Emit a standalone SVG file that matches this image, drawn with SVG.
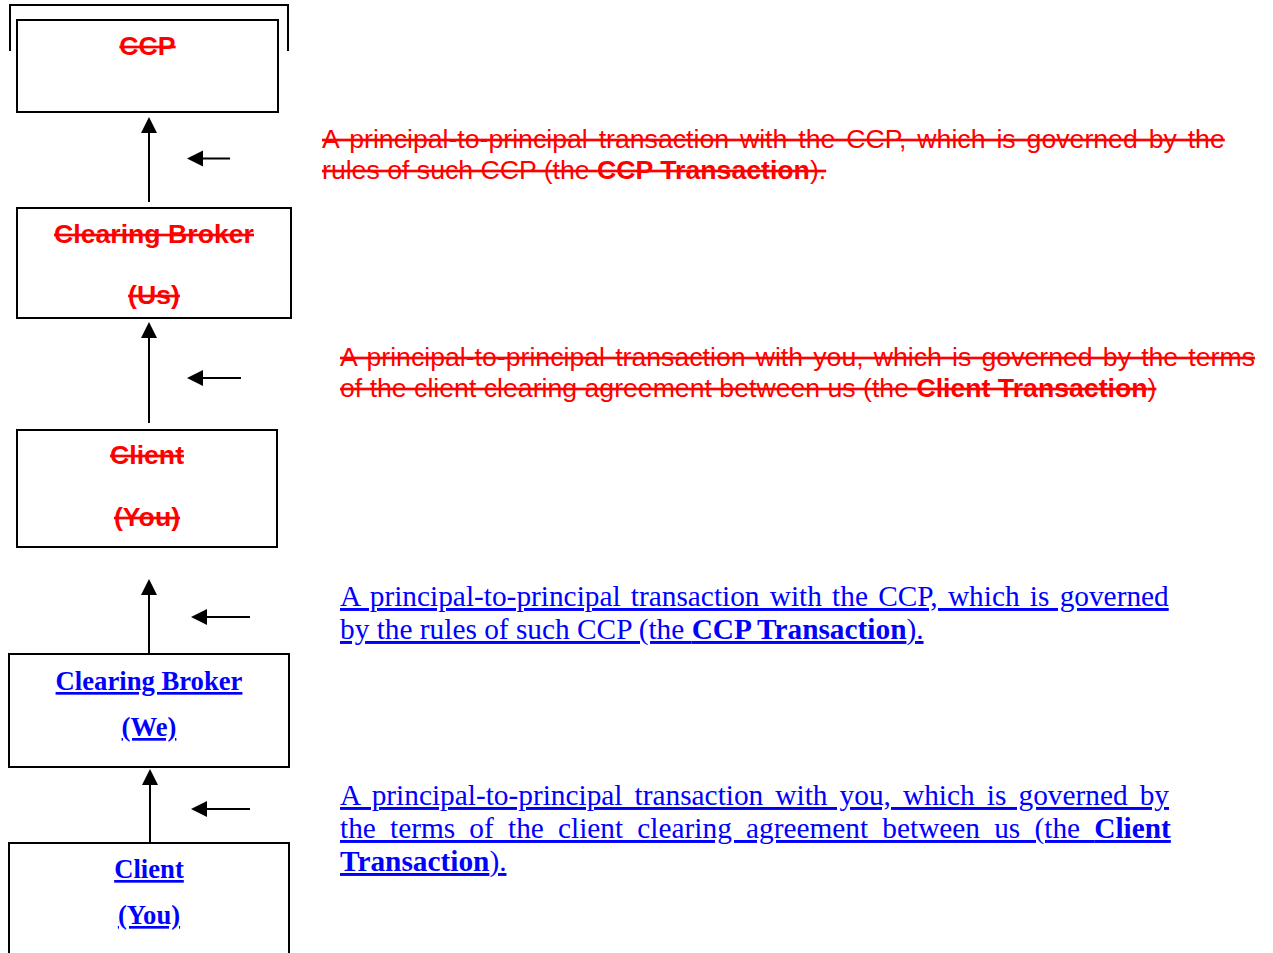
<svg xmlns="http://www.w3.org/2000/svg" width="1273" height="953" viewBox="0 0 1273 953">
<style>
.box{fill:#fff;stroke:#000;stroke-width:2}
.ln{stroke:#000;stroke-width:2;fill:none}
.red{font-family:"Liberation Sans",Arial,sans-serif;font-size:26.67px;fill:#ff0000;text-decoration:line-through}
.redb{font-family:"Liberation Sans",Arial,sans-serif;font-size:26.67px;font-weight:bold;fill:#ff0000;text-decoration:line-through;text-anchor:middle}
.blue{font-family:"Liberation Serif","Times New Roman",serif;font-size:29.33px;fill:#0000ff;text-decoration:underline}
.blueb{font-family:"Liberation Serif","Times New Roman",serif;font-size:26.67px;font-weight:bold;fill:#0000ff;text-decoration:underline;text-anchor:middle}
.b{font-weight:bold}
</style>
<defs>
<marker id="ah" markerUnits="userSpaceOnUse" markerWidth="18" markerHeight="18" refX="0" refY="8" orient="auto">
<path d="M0,0 L16,8 L0,16 Z" fill="#000"/>
</marker>
</defs>
<rect width="1273" height="953" fill="#fff"/>
<g id="bracket"><path class="ln" d="M10,51 V5 H288 V51"/></g>
<g id="node-ccp">
<rect class="box" x="17" y="20" width="261" height="92"/>
<text class="redb" x="147.5" y="55">CCP</text>
</g>
<g id="node-broker-us">
<rect class="box" x="17" y="208" width="274" height="110"/>
<text class="redb" x="154" y="243">Clearing Broker</text>
<text class="redb" x="154" y="304">(Us)</text>
</g>
<g id="node-client-you-old">
<rect class="box" x="17" y="430" width="260" height="117"/>
<text class="redb" x="147" y="464">Client</text>
<text class="redb" x="147" y="526">(You)</text>
</g>
<g id="node-broker-we">
<rect class="box" x="9" y="654" width="280" height="113"/>
<text class="blueb" x="149" y="690">Clearing Broker</text>
<text class="blueb" x="149" y="736">(We)</text>
</g>
<g id="node-client-you">
<path class="box" d="M9,960 V843 H289 V960"/>
<text class="blueb" x="149" y="878">Client</text>
<text class="blueb" x="149" y="924">(You)</text>
</g>
<g id="connectors">
<line class="ln" x1="149" y1="202" x2="149" y2="133" marker-end="url(#ah)"/>
<line class="ln" x1="230" y1="158.5" x2="203" y2="158.5" marker-end="url(#ah)"/>
<line class="ln" x1="149" y1="423" x2="149" y2="338" marker-end="url(#ah)"/>
<line class="ln" x1="241" y1="378" x2="203" y2="378" marker-end="url(#ah)"/>
<line class="ln" x1="149" y1="654" x2="149" y2="595" marker-end="url(#ah)"/>
<line class="ln" x1="250" y1="617" x2="207" y2="617" marker-end="url(#ah)"/>
<line class="ln" x1="150" y1="843" x2="150" y2="785" marker-end="url(#ah)"/>
<line class="ln" x1="250" y1="809" x2="207" y2="809" marker-end="url(#ah)"/>
</g>
<g id="label-ccp-old">
<text class="red" x="322" y="148" word-spacing="3.5">A principal-to-principal transaction with the CCP, which is governed by the</text>
<text class="red" x="322" y="179">rules of such CCP (the <tspan class="b">CCP Transaction</tspan>).</text>
</g>
<g id="label-client-old">
<text class="red" x="340" y="366" word-spacing="2.75">A principal-to-principal transaction with you, which is governed by the terms</text>
<text class="red" x="340" y="397">of the client clearing agreement between us (the <tspan class="b">Client Transaction</tspan>)</text>
</g>
<g id="label-ccp">
<text class="blue" x="340" y="606" word-spacing="2.9">A principal-to-principal transaction with the CCP, which is governed</text>
<text class="blue" x="340" y="639">by the rules of such CCP (the <tspan class="b">CCP Transaction</tspan>).</text>
</g>
<g id="label-client">
<text class="blue" x="340" y="805" word-spacing="4.77">A principal-to-principal transaction with you, which is governed by</text>
<text class="blue" x="340" y="838" word-spacing="6.86">the terms of the client clearing agreement between us (the <tspan class="b">Client</tspan></text>
<text class="blue" x="340" y="871"><tspan class="b">Transaction</tspan>).</text>
</g>
</svg>
